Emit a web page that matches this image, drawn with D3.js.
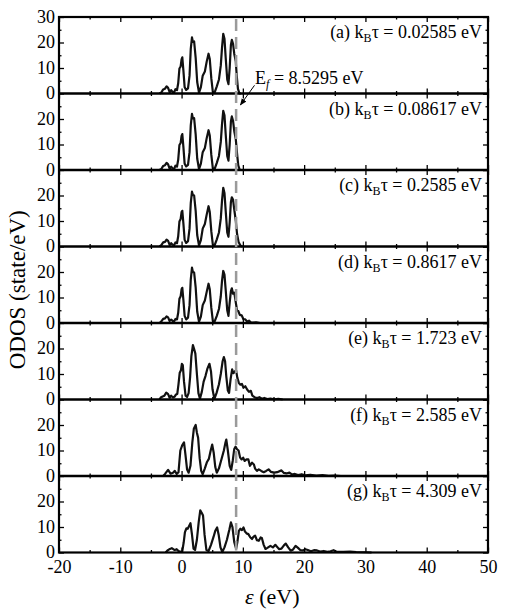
<!DOCTYPE html>
<html>
<head>
<meta charset="utf-8">
<script src="https://cdn.jsdelivr.net/npm/d3@7"></script>
<style>
  html, body { margin: 0; padding: 0; background: #fff; }
  svg { display: block; }
  text { font-family: "Liberation Serif", "Times New Roman", Times, serif; fill: #000; }
</style>
</head>
<body>
<svg id="chart" width="515" height="615"></svg>
<script>
// ---------------- data ----------------
const panelLabels = ["(a)", "(b)", "(c)", "(d)", "(e)", "(f)", "(g)"];
const kbtValues = ["0.02585", "0.08617", "0.2585", "0.8617", "1.723", "2.585", "4.309"];
const fermiText = "8.5295";
const fermiLineX = 8.9;
const xTicks = [-20, -10, 0, 10, 20, 30, 40, 50];
const xMinorTicks = [-15, -5, 5, 15, 25, 35, 45];
const yTicksTop = [0, 10, 20, 30];
const yTicks = [0, 10, 20];
const yMinorTicks = [5, 15, 25];

const odosA = [[-3.6,0],[-3.3,0.4],[-3.0,1.6],[-2.7,1.9],[-2.45,2.8],[-2.2,2.2],[-1.95,0.5],[-1.7,1.3],[-1.45,0.6],[-1.2,0.5],[-1.0,1.7],[-0.75,1.3],[-0.55,4],[-0.35,9.8],[-0.15,10.6],[0.0,13.4],[0.12,14.2],[0.3,9],[0.5,2.5],[0.75,1.4],[1.05,2.0],[1.3,7],[1.5,17.5],[1.7,22],[1.85,20.2],[2.05,20.4],[2.3,14],[2.55,4.5],[2.85,0.3],[3.15,2.5],[3.45,7],[3.8,8.6],[4.1,12.5],[4.4,15.6],[4.6,13.5],[4.85,6],[5.1,0.6],[5.4,0.4],[5.75,2.8],[6.1,5.5],[6.4,11],[6.6,18],[6.8,23.4],[7.0,21.5],[7.2,14],[7.45,5.5],[7.65,3.7],[7.85,10],[8.05,19],[8.2,21],[8.4,19.5],[8.6,15.5],[8.85,12.5],[9.0,7],[9.2,1.8],[9.45,0],[9.7,0]];
const odosB = [[-3.6,0],[-3.3,0.4],[-3.0,1.6],[-2.7,1.9],[-2.45,2.8],[-2.2,2.2],[-1.95,0.5],[-1.7,1.3],[-1.45,0.6],[-1.2,0.5],[-1.0,1.7],[-0.75,1.3],[-0.55,4],[-0.35,9.8],[-0.15,10.6],[0.0,13.4],[0.12,14.1],[0.3,9],[0.5,2.5],[0.75,1.4],[1.05,2.0],[1.3,7],[1.5,17.5],[1.7,22],[1.85,20.2],[2.05,20.3],[2.3,14],[2.55,4.5],[2.85,0.3],[3.15,2.5],[3.45,7],[3.8,8.6],[4.1,12.5],[4.4,15.6],[4.6,13.5],[4.85,6],[5.1,0.6],[5.4,0.4],[5.75,2.8],[6.1,5.5],[6.4,11],[6.6,18],[6.8,23.2],[7.0,21.5],[7.2,14],[7.45,5.5],[7.65,3.7],[7.85,10],[8.05,19],[8.2,21],[8.4,19.3],[8.6,15.2],[8.85,12],[9.05,6.5],[9.25,1.8],[9.5,0],[9.8,0]];
const odosC = [[-3.6,0],[-3.3,0.5],[-3.0,1.6],[-2.7,1.8],[-2.45,2.7],[-2.2,2.2],[-1.95,0.6],[-1.7,1.3],[-1.45,0.7],[-1.2,0.6],[-1.0,1.6],[-0.75,1.3],[-0.55,4],[-0.35,9.8],[-0.15,10.8],[0.0,13.5],[0.12,14],[0.3,9],[0.5,2.6],[0.75,1.4],[1.05,2.1],[1.3,7],[1.5,17],[1.7,21.5],[1.85,20.2],[2.05,20],[2.3,14],[2.55,4.5],[2.85,0.4],[3.15,2.5],[3.45,7],[3.8,8.8],[4.1,12.5],[4.4,15.8],[4.6,13.5],[4.85,6],[5.1,0.7],[5.4,0.5],[5.75,2.8],[6.1,5.5],[6.4,11],[6.6,18],[6.8,23],[7.0,21],[7.2,14],[7.45,5.5],[7.65,3.8],[7.85,9.5],[8.05,17.5],[8.2,19.3],[8.4,18.3],[8.6,14.5],[8.85,10],[9.05,5],[9.3,1.8],[9.6,0.4],[9.9,0]];
const odosD = [[-3.6,0],[-3.3,0.6],[-3.0,1.6],[-2.7,1.8],[-2.45,2.6],[-2.2,2.2],[-1.95,0.8],[-1.7,1.3],[-1.45,0.8],[-1.2,0.7],[-1.0,1.6],[-0.75,1.4],[-0.55,4],[-0.35,9.5],[-0.15,10.5],[0.0,13.2],[0.12,13.8],[0.3,9],[0.5,2.8],[0.75,1.4],[1.05,2.1],[1.3,7],[1.5,17],[1.7,21.7],[1.85,20],[2.05,19.8],[2.3,14],[2.55,4.5],[2.85,0.5],[3.15,2.5],[3.45,7],[3.8,8.8],[4.1,12.2],[4.4,15.4],[4.6,13.2],[4.85,6],[5.1,0.8],[5.4,0.6],[5.75,2.8],[6.1,5.5],[6.4,10.5],[6.6,16.5],[6.8,20.4],[7.0,19],[7.2,13],[7.45,5],[7.65,2.8],[7.85,8],[8.05,12.5],[8.2,13.6],[8.4,11.5],[8.6,11.9],[8.85,8],[9.05,5],[9.25,4.7],[9.5,3.2],[9.8,3.0],[10.1,1.5],[10.4,1.4],[10.7,0.6],[11.0,0.9],[11.3,0.3],[11.6,0.2],[12.2,0.3],[12.8,0]];
const odosE = [[-3.6,0],[-3.4,0.8],[-3.1,1.2],[-2.8,1.5],[-2.5,2.7],[-2.2,2.1],[-1.95,0.7],[-1.7,1.5],[-1.4,0.8],[-1.1,1.2],[-0.9,2.0],[-0.7,2.2],[-0.5,6],[-0.3,10.5],[-0.1,11.5],[0.05,14],[0.2,13.5],[0.4,7],[0.65,1.5],[0.9,1.0],[1.15,2.5],[1.4,9],[1.6,17],[1.85,21.3],[2.05,19.8],[2.25,18],[2.5,10],[2.75,2.5],[3.0,0.3],[3.3,3],[3.6,7],[3.9,9.2],[4.2,12],[4.55,14],[4.8,11],[5.05,4],[5.35,0.3],[5.7,2.5],[6.1,6],[6.4,10],[6.7,15],[6.9,16.6],[7.1,15],[7.3,9],[7.55,3.5],[7.75,2.6],[8.0,8],[8.25,11.8],[8.45,10.3],[8.7,11],[8.9,11.4],[9.1,8.5],[9.35,6.5],[9.6,5.8],[9.85,6.1],[10.1,4.6],[10.4,5.2],[10.7,3.9],[11.0,3.0],[11.3,3.4],[11.55,1.5],[11.9,0.9],[12.3,0.6],[12.7,0.9],[13.1,0.3],[13.5,0.6],[14.0,0.2],[14.5,0.4],[15.1,0.1],[15.8,0.3],[16.5,0]];
const odosF = [[-3.0,0],[-2.7,0.8],[-2.2,2.4],[-1.8,0.9],[-1.4,1.3],[-1.1,2.0],[-0.8,0.8],[-0.5,1.5],[-0.2,10],[0.1,12],[0.4,13.2],[0.65,8],[0.9,2.5],[1.15,1.3],[1.45,4],[1.75,13],[2.0,18.5],[2.3,20],[2.5,17],[2.7,15],[2.95,7],[3.2,2],[3.45,0.7],[3.8,3],[4.15,5.5],[4.45,6.7],[4.75,10],[5.0,12.3],[5.25,9],[5.5,3.5],[5.75,1.3],[6.1,3],[6.5,6.5],[6.9,10],[7.15,13],[7.3,14.3],[7.55,10],[7.85,4],[8.1,2.4],[8.35,6],[8.6,10.6],[8.8,11.5],[9.05,10.5],[9.3,10],[9.55,7.2],[9.8,6.5],[10.05,7.2],[10.3,5.9],[10.6,6.5],[10.9,6.5],[11.15,4],[11.5,5.2],[11.8,4.5],[12.0,2.9],[12.3,2],[12.6,2.6],[13.0,2],[13.4,1.5],[13.8,2.0],[14.2,2.6],[14.6,1.6],[15.1,1.3],[15.6,1.5],[16.3,2.2],[16.7,1.2],[17.1,1.0],[17.6,1.3],[18.0,0.6],[18.5,0.8],[19.0,0.4],[19.6,0.7],[20.2,0.3],[21,0.5],[22,0.2],[23,0.4],[24,0.1],[25,0.2],[26,0]];
const odosG = [[-2.6,0],[-2.3,0.8],[-1.9,1.4],[-1.6,1.7],[-1.3,1.2],[-1.1,1.0],[-0.8,1.3],[-0.5,0.6],[-0.2,0.4],[0.1,0.3],[0.35,4],[0.55,8],[0.8,9.5],[1.0,9.3],[1.25,10.5],[1.45,11.5],[1.7,7],[1.95,1.5],[2.2,1.0],[2.5,5],[2.8,12],[3.05,16.5],[3.3,15.5],[3.5,14.5],[3.75,7],[4.05,1.0],[4.4,0.6],[4.8,3],[5.2,6],[5.5,8.5],[5.8,9.8],[6.05,7],[6.35,2],[6.65,0.2],[7.0,2],[7.4,5],[7.8,9],[8.05,11.8],[8.3,10],[8.6,4],[8.9,1.5],[9.1,4],[9.35,8.5],[9.6,9.3],[9.85,8.8],[10.1,9.8],[10.35,8.2],[10.6,7.5],[10.9,7.2],[11.2,6],[11.5,5.3],[11.75,6.2],[12.0,6.6],[12.3,4.8],[12.6,4.6],[12.9,5.9],[13.1,5.7],[13.4,3],[13.7,1.4],[14.0,1.8],[14.5,2.6],[14.9,2.0],[15.3,3.0],[15.6,2.2],[15.9,1.3],[16.3,1.5],[16.7,2.8],[17.0,3.5],[17.4,2],[17.8,0.7],[18.2,1.2],[18.6,2.6],[19.0,1.8],[19.4,0.9],[19.8,0.8],[20.2,1.3],[20.6,1.0],[21.1,0.5],[21.6,0.9],[22.1,0.8],[22.6,0.4],[23.2,0.6],[23.8,0.3],[24.3,0.5],[24.8,0.9],[25.3,0.3],[26.4,0.3],[27.5,0.4],[28.5,0.2],[30,0.1],[31,0]];
const series = [odosA, odosB, odosC, odosD, odosE, odosF, odosG];

// ---------------- layout ----------------
const svg = d3.select("#chart");
const plotL = 59, plotR = 488, plotT = 17, panelH = 76.5;
const x = d3.scaleLinear().domain([-20, 50]).range([plotL, plotR]);

svg.append("defs").append("marker")
  .attr("id", "arrow").attr("viewBox", "0 0 10 10")
  .attr("refX", 9).attr("refY", 5)
  .attr("markerWidth", 7).attr("markerHeight", 7)
  .attr("markerUnits", "userSpaceOnUse")
  .attr("orient", "auto")
  .append("path").attr("d", "M0,1 L10,5 L0,9 Z").attr("fill", "#000");

const line = d3.line().x(d => x(d[0]));

series.forEach((data, i) => {
  const y0 = plotT + i * panelH;
  const y = d3.scaleLinear().domain([0, 30]).range([y0 + panelH, y0]);
  const g = svg.append("g");

  g.append("path")
    .datum(data)
    .attr("d", line.y(d => y(d[1])))
    .attr("fill", "none")
    .attr("stroke", "#111")
    .attr("stroke-width", 2.2)
    .attr("stroke-linejoin", "round");

  const fmtNone = () => "";
  const leftAx = g.append("g").attr("transform", `translate(${plotL},0)`)
    .call(d3.axisLeft(y).tickValues(i === 0 ? yTicksTop : yTicks)
      .tickSizeInner(-5).tickSizeOuter(0).tickPadding(4));
  leftAx.selectAll("text").style("font-size", "18px").attr("dy", "0.3em");
  g.append("g").attr("transform", `translate(${plotL},0)`)
    .call(d3.axisLeft(y).tickValues(yMinorTicks).tickSizeInner(-2.5).tickSizeOuter(0).tickFormat(fmtNone));
  g.append("g").attr("transform", `translate(${plotR},0)`)
    .call(d3.axisRight(y).tickValues([0, 10, 20, 30]).tickSizeInner(-5).tickSizeOuter(0).tickFormat(fmtNone));
  g.append("g").attr("transform", `translate(${plotR},0)`)
    .call(d3.axisRight(y).tickValues(yMinorTicks).tickSizeInner(-2.5).tickSizeOuter(0).tickFormat(fmtNone));
  const last = i === series.length - 1;
  const botAx = g.append("g").attr("transform", `translate(0,${y0 + panelH})`)
    .call(d3.axisBottom(x).tickValues(xTicks).tickSizeInner(-5).tickSizeOuter(0)
      .tickPadding(8).tickFormat(last ? (d => String(d)) : fmtNone));
  botAx.selectAll("text").style("font-size", "18px");
  g.append("g").attr("transform", `translate(0,${y0 + panelH})`)
    .call(d3.axisBottom(x).tickValues(xMinorTicks).tickSizeInner(-2.5).tickSizeOuter(0).tickFormat(fmtNone));
  g.append("g").attr("transform", `translate(0,${y0})`)
    .call(d3.axisTop(x).tickValues(xTicks).tickSizeInner(-5).tickSizeOuter(0).tickFormat(fmtNone));
  g.append("g").attr("transform", `translate(0,${y0})`)
    .call(d3.axisTop(x).tickValues(xMinorTicks).tickSizeInner(-2.5).tickSizeOuter(0).tickFormat(fmtNone));
  g.selectAll(".domain").remove();
  g.selectAll(".tick line").attr("stroke", "#000").attr("stroke-width", 1.3);

  const t = g.append("text")
    .attr("x", plotR - 6).attr("y", y0 + 21)
    .attr("text-anchor", "end")
    .style("font-size", "18px");
  t.append("tspan").text(panelLabels[i] + " k");
  t.append("tspan").attr("font-size", "12px").attr("dy", 4).text("B");
  t.append("tspan").attr("dy", -4).text("τ = " + kbtValues[i] + " eV");
});

svg.append("rect")
  .attr("x", plotL).attr("y", plotT)
  .attr("width", plotR - plotL).attr("height", panelH * series.length)
  .attr("fill", "none").attr("stroke", "#000").attr("stroke-width", 2.2);
for (let i = 1; i < series.length; i++) {
  svg.append("line")
    .attr("x1", plotL).attr("x2", plotR)
    .attr("y1", plotT + i * panelH).attr("y2", plotT + i * panelH)
    .attr("stroke", "#000").attr("stroke-width", 2.6);
}

svg.append("line")
  .attr("x1", x(fermiLineX)).attr("x2", x(fermiLineX))
  .attr("y1", plotT + 2).attr("y2", plotT + panelH * series.length - 2)
  .attr("stroke", "#9a9a9a").attr("stroke-width", 2.5)
  .attr("stroke-dasharray", "12,6");

const yA = d3.scaleLinear().domain([0, 30]).range([plotT + panelH, plotT]);
const ef = svg.append("text").attr("x", x(12.0)).attr("y", yA(3.6)).style("font-size", "18px");
ef.append("tspan").text("E");
ef.append("tspan").attr("font-size", "12px").attr("font-style", "italic").attr("dy", 4).text("f");
ef.append("tspan").attr("dy", -4).text(" = " + fermiText + " eV");
svg.append("line")
  .attr("x1", x(11.9)).attr("y1", yA(3.2))
  .attr("x2", x(9.6)).attr("y2", yA(-4.5))
  .attr("stroke", "#000").attr("stroke-width", 1)
  .attr("marker-end", "url(#arrow)");

svg.append("text")
  .attr("transform", `translate(25,${plotT + panelH * series.length / 2 + 5}) rotate(-90)`)
  .attr("text-anchor", "middle")
  .style("font-size", "23px")
  .text("ODOS (state/eV)");
const xt = svg.append("text")
  .attr("x", x(14.8)).attr("y", 604)
  .attr("text-anchor", "middle")
  .style("font-size", "22px");
xt.append("tspan").attr("font-style", "italic").text("ε");
xt.append("tspan").text(" (eV)");
</script>
</body>
</html>
